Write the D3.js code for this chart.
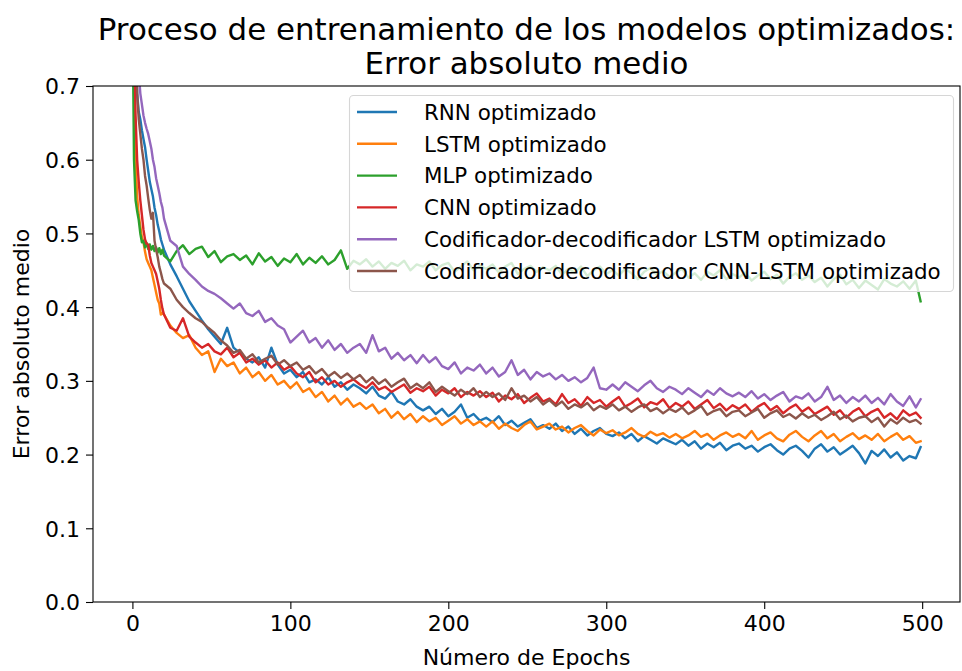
<!DOCTYPE html>
<html>
<head>
<meta charset="utf-8">
<script src="https://cdn.jsdelivr.net/npm/d3@7"></script>
<style>
	body { margin: 0; background: #fff; }
	text { font-family: "DejaVu Sans", sans-serif; fill: #000; }
</style>
</head>
<body>
<div id="chart"></div>
<script>
var width = 962;
var height = 671;

// Epochs sampled: every epoch at the start, then every 4
var epochs = [
	0, 1, 2, 3, 4, 5, 6, 7, 8, 9, 10, 11, 12, 13, 14, 15, 16, 17, 18, 19, 20,
	24, 28, 32, 36, 40, 44, 48, 52, 56, 60,
	64, 68, 72, 76, 80, 84, 88, 92, 96, 100,
	104, 108, 112, 116, 120, 124, 128, 132, 136, 140,
	144, 148, 152, 156, 160, 164, 168, 172, 176, 180,
	184, 188, 192, 196, 200, 204, 208, 212, 216, 220,
	224, 228, 232, 236, 240, 244, 248, 252, 256, 260,
	264, 268, 272, 276, 280, 284, 288, 292, 296, 300,
	304, 308, 312, 316, 320, 324, 328, 332, 336, 340,
	344, 348, 352, 356, 360, 364, 368, 372, 376, 380,
	384, 388, 392, 396, 400, 404, 408, 412, 416, 420,
	424, 428, 432, 436, 440, 444, 448, 452, 456, 460,
	464, 468, 472, 476, 480, 484, 488, 492, 496, 499
	];

var rnn = [
	1.20, 0.95, 0.80, 0.69, 0.665, 0.655, 0.64, 0.628, 0.617, 0.60, 0.585, 0.57, 0.56, 0.55, 0.535, 0.525, 0.512, 0.503, 0.492, 0.485, 0.478,
	0.458, 0.442, 0.425, 0.408, 0.395, 0.382, 0.37, 0.36, 0.35, 0.372,
	0.345, 0.338, 0.33, 0.325, 0.332, 0.318, 0.345, 0.322, 0.31, 0.315,
	0.305, 0.312, 0.298, 0.302, 0.295, 0.305, 0.292, 0.298, 0.288, 0.295,
	0.29, 0.283, 0.292, 0.28, 0.276, 0.285, 0.272, 0.268, 0.275, 0.265,
	0.26, 0.265, 0.255, 0.262, 0.252, 0.258, 0.268, 0.25, 0.255, 0.246,
	0.25, 0.244, 0.252, 0.24, 0.246, 0.238, 0.243, 0.248, 0.236, 0.24,
	0.235, 0.242, 0.232, 0.238, 0.228, 0.235, 0.226, 0.232, 0.236, 0.228,
	0.225, 0.23, 0.222, 0.228, 0.218, 0.225, 0.22, 0.215, 0.222, 0.218,
	0.214, 0.22, 0.212, 0.218, 0.208, 0.215, 0.21, 0.216, 0.206, 0.212,
	0.215, 0.208, 0.212, 0.204, 0.21, 0.214, 0.206, 0.2, 0.208, 0.212,
	0.205, 0.196, 0.208, 0.214, 0.204, 0.21, 0.2, 0.206, 0.212, 0.202,
	0.188, 0.205, 0.198, 0.207, 0.196, 0.203, 0.192, 0.198, 0.195, 0.21
	];

var lstm = [
	1.10, 0.72, 0.60, 0.55, 0.525, 0.51, 0.495, 0.488, 0.475, 0.465, 0.46, 0.455, 0.45, 0.44, 0.43, 0.42, 0.41, 0.405, 0.39, 0.392, 0.39,
	0.375, 0.365, 0.358, 0.362, 0.345, 0.335, 0.34, 0.312, 0.33, 0.32,
	0.325, 0.31, 0.318, 0.305, 0.312, 0.30, 0.308, 0.295, 0.30, 0.29,
	0.298, 0.285, 0.29, 0.278, 0.285, 0.272, 0.28, 0.268, 0.276, 0.265,
	0.27, 0.262, 0.268, 0.256, 0.262, 0.25, 0.258, 0.248, 0.255, 0.244,
	0.252, 0.245, 0.25, 0.24, 0.246, 0.252, 0.242, 0.248, 0.24, 0.245,
	0.238, 0.245, 0.235, 0.242, 0.236, 0.232, 0.24, 0.245, 0.234, 0.238,
	0.242, 0.234, 0.238, 0.23, 0.236, 0.24, 0.232, 0.226, 0.234, 0.229,
	0.233, 0.226, 0.23, 0.236, 0.228, 0.224, 0.231, 0.226, 0.229, 0.223,
	0.228, 0.222, 0.226, 0.232, 0.224, 0.228, 0.22, 0.226, 0.23, 0.224,
	0.228, 0.222, 0.232, 0.22, 0.226, 0.23, 0.222, 0.218, 0.227, 0.232,
	0.224, 0.218, 0.226, 0.232, 0.222, 0.228, 0.218, 0.224, 0.229, 0.221,
	0.226, 0.22, 0.228, 0.218, 0.224, 0.229, 0.22, 0.225, 0.216, 0.218
	];

var mlp = [
	0.82, 0.60, 0.545, 0.53, 0.518, 0.50, 0.488, 0.49, 0.481, 0.487, 0.479, 0.485, 0.478, 0.483, 0.476, 0.481, 0.474, 0.48, 0.472, 0.478, 0.47,
	0.462, 0.476, 0.484, 0.472, 0.479, 0.482, 0.468, 0.476, 0.461, 0.469,
	0.472, 0.464, 0.47, 0.458, 0.473, 0.462, 0.468, 0.456, 0.466, 0.461,
	0.472, 0.458, 0.467, 0.46, 0.469, 0.458, 0.464, 0.477, 0.452, 0.463,
	0.458, 0.465, 0.455, 0.462, 0.452, 0.46, 0.456, 0.463, 0.45, 0.458,
	0.455, 0.462, 0.45, 0.457, 0.46, 0.448, 0.455, 0.462, 0.45, 0.456,
	0.452, 0.458, 0.447, 0.455, 0.46, 0.445, 0.452, 0.456, 0.448, 0.454,
	0.45, 0.456, 0.444, 0.452, 0.447, 0.455, 0.442, 0.45, 0.455, 0.445,
	0.45, 0.443, 0.452, 0.446, 0.438, 0.448, 0.453, 0.444, 0.449, 0.441,
	0.447, 0.452, 0.44, 0.446, 0.437, 0.448, 0.443, 0.45, 0.438, 0.445,
	0.44, 0.447, 0.436, 0.443, 0.448, 0.438, 0.444, 0.432, 0.441, 0.446,
	0.437, 0.443, 0.434, 0.44, 0.428, 0.438, 0.444, 0.431, 0.437, 0.426,
	0.436, 0.43, 0.424, 0.438, 0.432, 0.428, 0.435, 0.425, 0.436, 0.408
	];

var cnn = [
	1.05, 0.78, 0.66, 0.60, 0.57, 0.545, 0.525, 0.505, 0.492, 0.486, 0.485, 0.47, 0.46, 0.455, 0.45, 0.445, 0.435, 0.425, 0.41, 0.398, 0.39,
	0.372, 0.368, 0.385, 0.36, 0.352, 0.345, 0.35, 0.34, 0.336, 0.345,
	0.332, 0.338, 0.325, 0.33, 0.322, 0.328, 0.318, 0.325, 0.315, 0.32,
	0.31, 0.305, 0.312, 0.298, 0.305, 0.295, 0.30, 0.292, 0.298, 0.302,
	0.295, 0.29, 0.298, 0.288, 0.292, 0.285, 0.29, 0.295, 0.284, 0.29,
	0.286, 0.292, 0.28, 0.288, 0.283, 0.29, 0.278, 0.285, 0.28, 0.286,
	0.278, 0.284, 0.272, 0.28, 0.275, 0.282, 0.27, 0.277, 0.283, 0.272,
	0.276, 0.268, 0.282, 0.27, 0.275, 0.266, 0.278, 0.27, 0.274, 0.265,
	0.272, 0.278, 0.265, 0.27, 0.276, 0.264, 0.271, 0.268, 0.275, 0.263,
	0.27, 0.265, 0.272, 0.262, 0.268, 0.274, 0.263, 0.269, 0.26, 0.267,
	0.262, 0.268, 0.258, 0.265, 0.27, 0.26, 0.266, 0.256, 0.263, 0.268,
	0.258, 0.264, 0.255, 0.26, 0.265, 0.254, 0.26, 0.25, 0.258, 0.263,
	0.252, 0.258, 0.262, 0.25, 0.256, 0.248, 0.26, 0.253, 0.257, 0.25
	];

var encDecLstm = [
	1.60, 1.20, 0.95, 0.80, 0.72, 0.69, 0.675, 0.66, 0.65, 0.642, 0.635, 0.625, 0.615, 0.60, 0.59, 0.575, 0.565, 0.555, 0.543, 0.535, 0.52,
	0.49, 0.483, 0.455, 0.445, 0.437, 0.428, 0.422, 0.418, 0.412, 0.405,
	0.398, 0.405, 0.392, 0.388, 0.395, 0.38, 0.385, 0.375, 0.37, 0.352,
	0.36, 0.368, 0.352, 0.358, 0.345, 0.355, 0.342, 0.35, 0.338, 0.345,
	0.35, 0.338, 0.362, 0.34, 0.345, 0.33, 0.338, 0.328, 0.335, 0.324,
	0.335, 0.325, 0.332, 0.32, 0.316, 0.325, 0.31, 0.318, 0.314, 0.322,
	0.31, 0.318, 0.306, 0.312, 0.328, 0.308, 0.315, 0.302, 0.312, 0.306,
	0.31, 0.302, 0.308, 0.30, 0.305, 0.298, 0.304, 0.318, 0.29, 0.288,
	0.295, 0.288, 0.298, 0.292, 0.286, 0.294, 0.30, 0.29, 0.285, 0.292,
	0.288, 0.282, 0.29, 0.284, 0.278, 0.287, 0.281, 0.29, 0.283, 0.279,
	0.284, 0.278, 0.286, 0.276, 0.282, 0.274, 0.28, 0.285, 0.272, 0.279,
	0.276, 0.283, 0.272, 0.278, 0.292, 0.274, 0.28, 0.27, 0.278, 0.272,
	0.28, 0.27, 0.277, 0.268, 0.282, 0.272, 0.266, 0.279, 0.264, 0.275
	];

var encDecCnnLstm = [
	1.40, 1.00, 0.78, 0.69, 0.655, 0.635, 0.615, 0.60, 0.578, 0.565, 0.548, 0.532, 0.52, 0.528, 0.49, 0.478, 0.468, 0.455, 0.447, 0.438, 0.432,
	0.425, 0.41, 0.40, 0.392, 0.385, 0.38, 0.372, 0.365, 0.355, 0.348,
	0.338, 0.342, 0.33, 0.336, 0.325, 0.33, 0.334, 0.322, 0.328, 0.32,
	0.325, 0.315, 0.32, 0.31, 0.316, 0.306, 0.312, 0.304, 0.31, 0.302,
	0.308, 0.298, 0.305, 0.296, 0.302, 0.292, 0.298, 0.303, 0.29, 0.296,
	0.29, 0.298, 0.285, 0.292, 0.286, 0.28, 0.288, 0.282, 0.29, 0.278,
	0.285, 0.278, 0.283, 0.274, 0.29, 0.276, 0.28, 0.272, 0.278, 0.268,
	0.274, 0.266, 0.272, 0.262, 0.268, 0.264, 0.27, 0.26, 0.266, 0.262,
	0.268, 0.26, 0.265, 0.258, 0.264, 0.268, 0.259, 0.263, 0.256, 0.262,
	0.258, 0.264, 0.255, 0.26, 0.266, 0.254, 0.259, 0.262, 0.252, 0.258,
	0.26, 0.252, 0.257, 0.262, 0.25, 0.256, 0.26, 0.251, 0.255, 0.249,
	0.256, 0.25, 0.254, 0.247, 0.252, 0.258, 0.248, 0.253, 0.245, 0.25,
	0.252, 0.244, 0.25, 0.238, 0.248, 0.242, 0.25, 0.244, 0.247, 0.242
	];

var seriesNames = [
	"RNN optimizado",
	"LSTM optimizado",
	"MLP optimizado",
	"CNN optimizado",
	"Codificador-decodificador LSTM optimizado",
	"Codificador-decodificador CNN-LSTM optimizado"
	];
var seriesValues = [rnn, lstm, mlp, cnn, encDecLstm, encDecCnnLstm];
var seriesColors = ["#1f77b4", "#ff7f0e", "#2ca02c", "#d62728", "#9467bd", "#8c564b"];

var xTicks = [0, 100, 200, 300, 400, 500];
var yTicks = [0.0, 0.1, 0.2, 0.3, 0.4, 0.5, 0.6, 0.7];

var titleLines = ["Proceso de entrenamiento de los modelos optimizados:", "Error absoluto medio"];
var xLabel = "Número de Epochs";
var yLabel = "Error absoluto medio";

// plot box
var plot = { left: 93, right: 960, top: 86, bottom: 602 };

var x = d3.scaleLinear().domain([-24.95, 523.95]).range([plot.left, plot.right]);
var y = d3.scaleLinear().domain([0, 0.7]).range([plot.bottom, plot.top]);

var svg = d3.select("#chart")
	.append("svg")
		.attr("width", width)
		.attr("height", height)
	;

svg.append("defs")
	.append("clipPath")
		.attr("id", "clip")
	.append("rect")
		.attr("x", plot.left)
		.attr("y", plot.top)
		.attr("width", plot.right - plot.left)
		.attr("height", plot.bottom - plot.top)
	;

// series lines
var line = d3.line()
	.x((d, i) => x(epochs[i]))
	.y(d => y(d));

svg.append("g")
	.attr("clip-path", "url(#clip)")
	.selectAll("path")
	.data(seriesValues)
	.enter()
		.append("path")
			.attr("d", d => line(d))
			.attr("fill", "none")
			.attr("stroke", (d, i) => seriesColors[i])
			.attr("stroke-width", 2.4)
			.attr("stroke-linejoin", "round")
			.attr("stroke-linecap", "square")
	;

// axes
var xAxis = svg.append("g")
	.attr("transform", "translate(0," + plot.bottom + ")")
	.call(d3.axisBottom(x).tickValues(xTicks).tickSize(7).tickPadding(6).tickFormat(d3.format("d")));

var yAxis = svg.append("g")
	.attr("transform", "translate(" + plot.left + ",0)")
	.call(d3.axisLeft(y).tickValues(yTicks).tickSize(7).tickPadding(6).tickFormat(d3.format(".1f")));

[xAxis, yAxis].forEach(function(g) {
	g.select(".domain").remove();
	g.selectAll(".tick line").attr("stroke", "#000").attr("stroke-width", 1.1);
	g.selectAll(".tick text")
		.attr("fill", "#000")
		.style("font-family", "'DejaVu Sans', sans-serif")
		.style("font-size", "22px");
});
yAxis.selectAll(".tick text").attr("dy", "0.36em");

// frame
svg.append("rect")
	.attr("x", plot.left)
	.attr("y", plot.top)
	.attr("width", plot.right - plot.left)
	.attr("height", plot.bottom - plot.top)
	.attr("fill", "none")
	.attr("stroke", "#000")
	.attr("stroke-width", 1.1)
	;

// legend
var legend = svg.append("g");
legend.append("rect")
	.attr("x", 349.5)
	.attr("y", 95.5)
	.attr("width", 604)
	.attr("height", 196)
	.attr("rx", 4)
	.attr("fill", "#fff")
	.attr("fill-opacity", 0.8)
	.attr("stroke", "#d6d6d6")
	.attr("stroke-width", 1.1)
	;

var legendRows = legend.selectAll("g.row")
	.data(seriesNames)
	.enter()
		.append("g")
			.attr("class", "row")
			.attr("transform", (d, i) => "translate(0," + (112 + i * 31.8) + ")")
	;
legendRows.append("line")
	.attr("x1", 357).attr("x2", 397)
	.attr("y1", 0).attr("y2", 0)
	.attr("stroke", (d, i) => seriesColors[i])
	.attr("stroke-width", 2.4);
legendRows.append("text")
	.attr("x", 424)
	.attr("dy", "0.36em")
	.style("font-size", "21.4px")
	.text(d => d);

// title and labels
svg.append("g")
	.selectAll("text")
	.data(titleLines)
	.enter()
		.append("text")
			.attr("x", (plot.left + plot.right) / 2)
			.attr("y", (d, i) => 40 + i * 34)
			.attr("text-anchor", "middle")
			.style("font-size", "30.9px")
			.text(d => d)
	;

svg.append("text")
	.attr("x", (plot.left + plot.right) / 2)
	.attr("y", 665)
	.attr("text-anchor", "middle")
	.style("font-size", "22px")
	.text(xLabel);

svg.append("text")
	.attr("transform", "translate(29," + ((plot.top + plot.bottom) / 2) + ") rotate(-90)")
	.attr("text-anchor", "middle")
	.style("font-size", "22px")
	.text(yLabel);
</script>
</body>
</html>
